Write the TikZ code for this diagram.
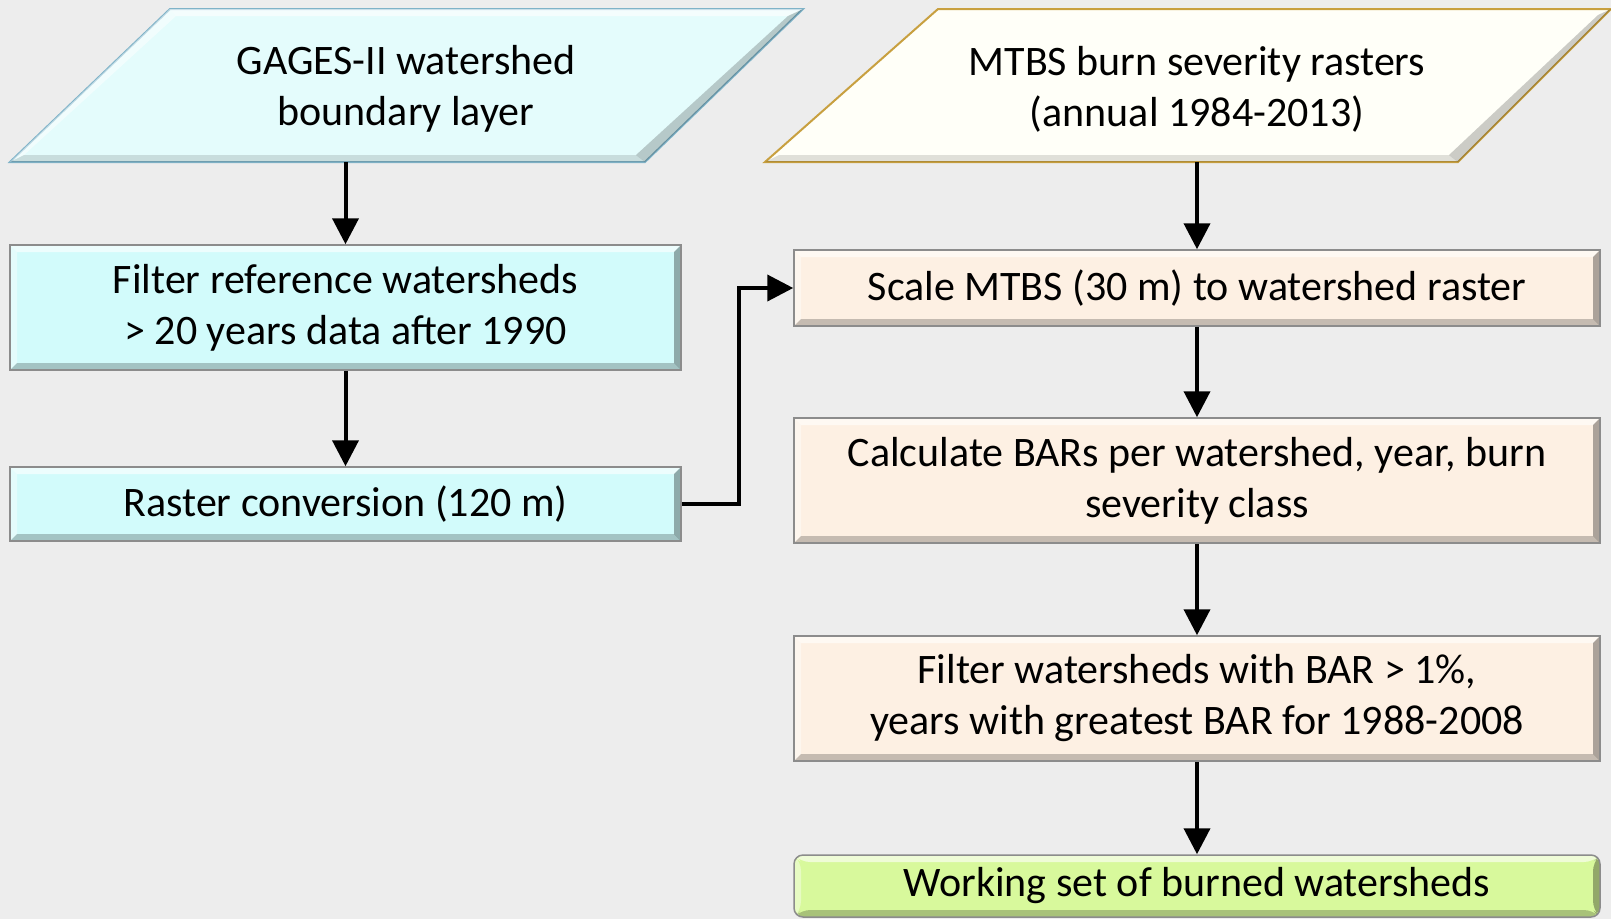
\documentclass[tikz,border=0pt]{standalone}
\usepackage{fontspec}
\setmainfont{Carlito}
\usetikzlibrary{arrows.meta,calc}
\definecolor{bgc}{HTML}{EDEDED}
\definecolor{cyanbox}{HTML}{D2FBFB}
\definecolor{cyanpar}{HTML}{E4FCFC}
\definecolor{cyanedge}{HTML}{7FB3C8}
\definecolor{ivory}{HTML}{FFFFF8}
\definecolor{goldedge}{HTML}{C8A040}
\definecolor{peach}{HTML}{FDF0E3}
\definecolor{greenbox}{HTML}{D8F99C}
\definecolor{edgegray}{HTML}{8C8C8C}
\tikzset{
  bevel/.style={path picture={
    \fill[white,opacity=0.6] (path picture bounding box.north west) -- (path picture bounding box.north east) -- ([xshift=-7pt,yshift=-7pt]path picture bounding box.north east) -- ([xshift=7pt,yshift=-7pt]path picture bounding box.north west) -- cycle;
    \fill[white,opacity=0.4] (path picture bounding box.north west) -- (path picture bounding box.south west) -- ([xshift=7pt,yshift=7pt]path picture bounding box.south west) -- ([xshift=7pt,yshift=-7pt]path picture bounding box.north west) -- cycle;
    \fill[black,opacity=0.22] (path picture bounding box.south west) -- (path picture bounding box.south east) -- ([xshift=-7pt,yshift=7pt]path picture bounding box.south east) -- ([xshift=7pt,yshift=7pt]path picture bounding box.south west) -- cycle;
    \fill[black,opacity=0.32] (path picture bounding box.north east) -- (path picture bounding box.south east) -- ([xshift=-7pt,yshift=7pt]path picture bounding box.south east) -- ([xshift=-7pt,yshift=-7pt]path picture bounding box.north east) -- cycle;
  }},
  procbox/.style={draw=edgegray, line width=1.5pt, bevel, align=center, inner sep=0pt,
    font=\fontsize{42}{51}\selectfont},
  leftbox/.style={procbox, fill=cyanbox, minimum width=671pt},
  rightbox/.style={procbox, fill=peach, minimum width=806pt},
  txt/.style={align=center, inner sep=0pt, font=\fontsize{42}{51}\selectfont},
  arr/.style={line width=4pt, -{Triangle[length=26pt,width=26pt]}},
}
\begin{document}
\begin{tikzpicture}[x=1pt,y=-1pt]
\fill[bgc] (0,0) rectangle (1611,919);
\useasboundingbox (0,0) rectangle (1611,919);
% input shapes
\filldraw[fill=cyanpar, draw=cyanedge, line width=2pt] (170,9) -- (803,9) -- (645,162) -- (10,162) -- cycle;
\fill[white,opacity=0.6] (170,9) -- (803,9) -- (788,16) -- (176,16) -- cycle;
\fill[white,opacity=0.5] (170,9) -- (10,162) -- (24,155) -- (176,16) -- cycle;
\fill[black,opacity=0.2] (803,9) -- (645,162) -- (636,155) -- (788,16) -- cycle;
\fill[black,opacity=0.12] (10,162) -- (645,162) -- (636,155) -- (24,155) -- cycle;
\filldraw[fill=ivory, draw=goldedge, line width=2pt] (938,9) -- (1611,9) -- (1458,162) -- (765,162) -- cycle;
\fill[black,opacity=0.2] (1611,9) -- (1458,162) -- (1449,155) -- (1598,15) -- cycle;
\fill[black,opacity=0.12] (765,162) -- (1458,162) -- (1449,155) -- (779,155) -- cycle;
\node[txt] (gagestxt) at (406,89) {GAGES-II watershed\\boundary layer};
\node[txt] (mtbstxt) at (1197,89) {MTBS burn severity rasters\\(annual 1984-2013)};
\coordinate (gages) at (406,162);
\coordinate (mtbs) at (1197,162);
% left column
\node[leftbox, minimum height=125pt] (filt) at (345.5,307.5) {Filter reference watersheds\\> 20 years data after 1990};
\node[leftbox, minimum height=74pt] (rast) at (345.5,504) {Raster conversion (120 m)};
% right column
\node[rightbox, minimum height=76pt] (scale) at (1197,288) {Scale MTBS (30 m) to watershed raster};
\node[rightbox, minimum height=125pt] (calc) at (1197,480.5) {Calculate BARs per watershed, year, burn\\severity class};
\node[rightbox, minimum height=125pt] (fbar) at (1197,698.5) {Filter watersheds with BAR > 1\%,\\years with greatest BAR for 1988-2008};
\node[procbox, fill=greenbox, rounded corners=9pt, minimum width=806pt, minimum height=62pt] (work) at (1197,886) {Working set of burned watersheds};
% connectors
\draw[arr] (gages -| filt.north) -- (filt.north);
\draw[arr] (filt.south) -- (rast.north);
\draw[arr] (rast.east) -- (739,504) |- (scale.west);
\draw[arr] (mtbs -| scale.north) -- (scale.north);
\draw[arr] (scale.south) -- (calc.north);
\draw[arr] (calc.south) -- (fbar.north);
\draw[arr] (fbar.south) -- (work.north);
\end{tikzpicture}
\end{document}
